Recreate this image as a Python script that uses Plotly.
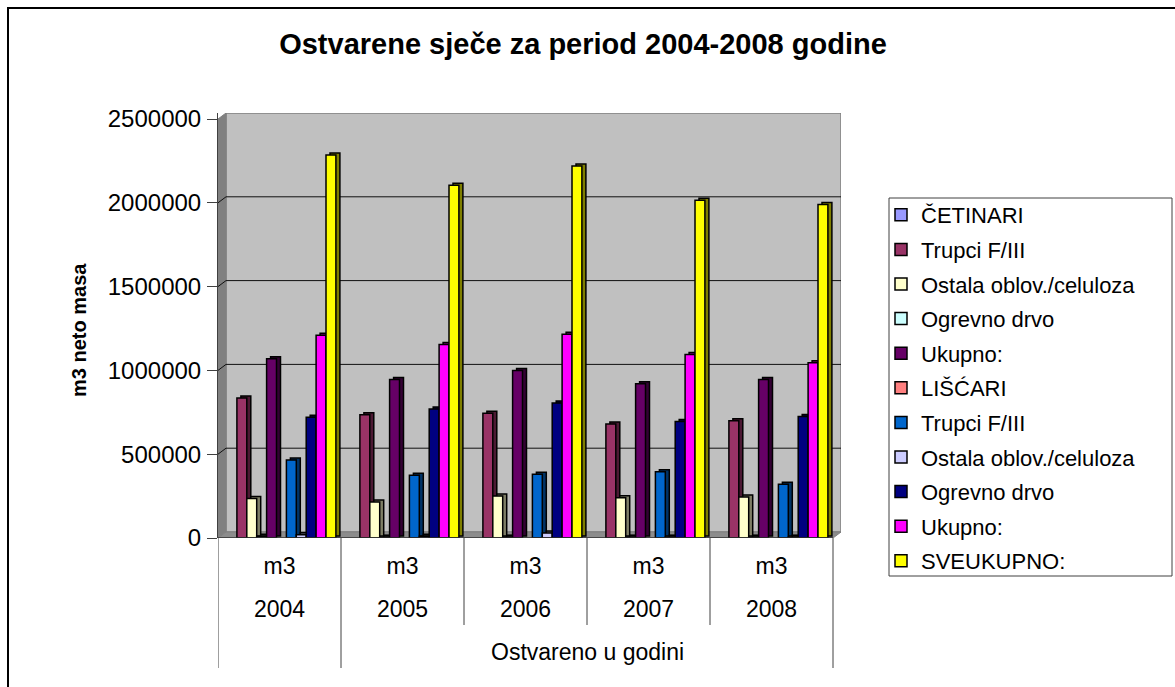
import plotly.graph_objects as go

W, H = 1175, 687
years = ["2004", "2005", "2006", "2007", "2008"]
unit_label = "m3"
group_label = "Ostvareno u godini"
series_names = ["ČETINARI", "Trupci F/III", "Ostala oblov./celuloza", "Ogrevno drvo", "Ukupno:",
                "LIŠĆARI", "Trupci F/III", "Ostala oblov./celuloza", "Ogrevno drvo", "Ukupno:", "SVEUKUPNO:"]
colors = ["#9999FF", "#993366", "#FFFFCC", "#CCFFFF", "#660066",
          "#FF8080", "#0066CC", "#CCCCFF", "#000080", "#FF00FF", "#FFFF00"]
cetinari = [0, 0, 0, 0, 0]
c_trupci = [835000, 735000, 745000, 680000, 700000]
c_ostala = [235000, 215000, 250000, 240000, 245000]
c_ogrevno = [10000, 5000, 5000, 5000, 5000]
c_ukupno = [1070000, 945000, 1000000, 920000, 945000]
liscari = [0, 0, 0, 0, 0]
l_trupci = [465000, 375000, 380000, 395000, 320000]
l_ostala = [20000, 10000, 30000, 5000, 5000]
l_ogrevno = [720000, 770000, 805000, 695000, 725000]
l_ukupno = [1210000, 1155000, 1215000, 1095000, 1045000]
sveukupno = [2285000, 2105000, 2220000, 2015000, 1990000]
series_values = [cetinari, c_trupci, c_ostala, c_ogrevno, c_ukupno, liscari,
                 l_trupci, l_ostala, l_ogrevno, l_ukupno, sveukupno]
y_ticks = [0, 500000, 1000000, 1500000, 2000000, 2500000]

# geometry: front plane of the chart box, in page pixels
X0, X1, Y0, Y1 = 218, 833, 538, 119
WX, WY = 8, 6           # depth of the walls
BX, BY = 4, 2           # depth of a bar
px_x = 5 / (X1 - X0)
px_y = 2500000 / (Y0 - Y1)
wx, wy = WX * px_x, WY * px_y
bx, by = BX * px_x, BY * px_y
bw = 9.9 * px_x
start = 9 * px_x
FONT = "Liberation Sans"


def dark(c):
    r, g, b = int(c[1:3], 16), int(c[3:5], 16), int(c[5:7], 16)
    return f"rgb({r//2},{g//2},{b//2})"


fig = go.Figure()
for i, (name, col, vals) in enumerate(zip(series_names, colors, series_values)):
    xs = [k + start + (i + 0.5) * bw for k in range(len(years))]
    shown = [v if v else None for v in vals]
    fig.add_trace(go.Bar(x=[v + bx for v in xs], y=shown, base=[by] * len(vals), width=bw,
                         marker=dict(color=dark(col), line=dict(color="black", width=1.5)),
                         showlegend=False, legendgroup=f"g{i}", hoverinfo="skip"))
    fig.add_trace(go.Bar(x=xs, y=shown, width=bw, name=name, legendgroup=f"g{i}",
                         marker=dict(color=col, line=dict(color="black", width=1.5))))

shapes = []
top = 2500000
# back wall, left wall, floor
shapes.append(dict(type="rect", xref="x", yref="y", x0=wx, x1=5 + wx, y0=wy, y1=top + wy,
                   fillcolor="#C0C0C0", line=dict(color="#808080", width=1.5), layer="below"))
shapes.append(dict(type="path", xref="x", yref="y", layer="below",
                   path=f"M0,0 L{wx},{wy} L{wx},{top+wy} L0,{top} Z",
                   fillcolor="#808080", line=dict(color="#808080", width=1)))
shapes.append(dict(type="path", xref="x", yref="y", layer="below",
                   path=f"M0,0 L{wx},{wy} L{5+wx},{wy} L5,0 Z",
                   fillcolor="#8C8C8C", line=dict(color="#808080", width=1)))
for t in y_ticks[1:-1]:
    shapes.append(dict(type="line", xref="x", yref="y", layer="below", x0=wx, x1=5 + wx, y0=t + wy, y1=t + wy,
                       line=dict(color="#101010", width=1)))
    shapes.append(dict(type="line", xref="x", yref="y", layer="below", x0=0, x1=wx, y0=t, y1=t + wy,
                       line=dict(color="#101010", width=1)))

SEP = "#404040"
for k in range(6):
    bottom = 668 if k in (0, 1, 5) else 625
    shapes.append(dict(type="line", xref="x", yref="paper", x0=k, x1=k, y0=1 - Y0 / H, y1=1 - bottom / H,
                       line=dict(color=SEP, width=1)))
# horizontal floor edge of the category axis
shapes.append(dict(type="line", xref="x", yref="y", x0=0, x1=5, y0=0, y1=0, line=dict(color="#303030", width=1.5)))
# outer frame: left and top edges only are in view
shapes.append(dict(type="path", xref="paper", yref="paper",
                   path=f"M{8/W},0 L{8/W},{1-8/H} L1,{1-8/H}",
                   line=dict(color="black", width=2)))
# legend box
shapes.append(dict(type="rect", xref="paper", yref="paper", x0=889 / W, x1=1172 / W, y0=1 - 576 / H, y1=1 - 198 / H,
                   fillcolor="white", line=dict(color="#404040", width=1)))

anns = []
for k, y in enumerate(years):
    anns.append(dict(x=k + 0.5, xref="x", y=1 - 609 / H, yref="paper", text=y, showarrow=False,
                     font=dict(family=FONT, size=23, color="black"), xanchor="center", yanchor="middle"))
anns.append(dict(x=3, xref="x", y=1 - 652 / H, yref="paper", text=group_label, showarrow=False,
                 font=dict(family=FONT, size=23, color="black"), xanchor="center", yanchor="middle"))
anns.append(dict(x=79 / W, xref="paper", y=1 - 330 / H, yref="paper", text="<b>m3 neto masa</b>", showarrow=False,
                 textangle=-90, font=dict(family=FONT, size=20, color="black"), xanchor="center", yanchor="middle"))

fig.update_layout(
    width=W, height=H, autosize=False, margin=dict(l=0, r=0, t=0, b=0, autoexpand=False),
    paper_bgcolor="white", plot_bgcolor="rgba(0,0,0,0)", barmode="overlay",
    title=dict(text="<b>Ostvarene sječe za period 2004-2008 godine</b>", x=583 / W, xanchor="center",
               y=1 - 44 / H, yanchor="middle", font=dict(family=FONT, size=29, color="black")),
    xaxis=dict(domain=[X0 / W, (X1 + WX) / W], range=[0, 5 + wx], showgrid=False, zeroline=False,
               tickmode="array", tickvals=[k + 0.5 for k in range(5)], ticktext=[unit_label] * 5,
               ticks="", ticklen=0, tickfont=dict(family=FONT, size=23, color="black"), showline=False,
               ticklabelstandoff=12),
    yaxis=dict(domain=[1 - Y0 / H, 1 - (Y1 - WY) / H], range=[0, top + wy], showgrid=False, zeroline=False,
               tickmode="array", tickvals=y_ticks, tickformat="d", ticks="outside", ticklen=10,
               tickcolor="#404040", tickfont=dict(family=FONT, size=24, color="black"), showline=True,
               linecolor="#404040", ticklabelstandoff=1),
    legend=dict(x=889 / W, xanchor="left", y=1 - 194 / H, yanchor="top", borderwidth=0,
                bgcolor="rgba(0,0,0,0)", font=dict(family=FONT, size=22, color="black"), tracegroupgap=3,
                indentation=-8, traceorder="grouped"),
    shapes=shapes, annotations=anns,
    showlegend=True,
)
fig.write_html("out.html", post_script="document.body.style.margin='0';",
               config={"displayModeBar": False})
